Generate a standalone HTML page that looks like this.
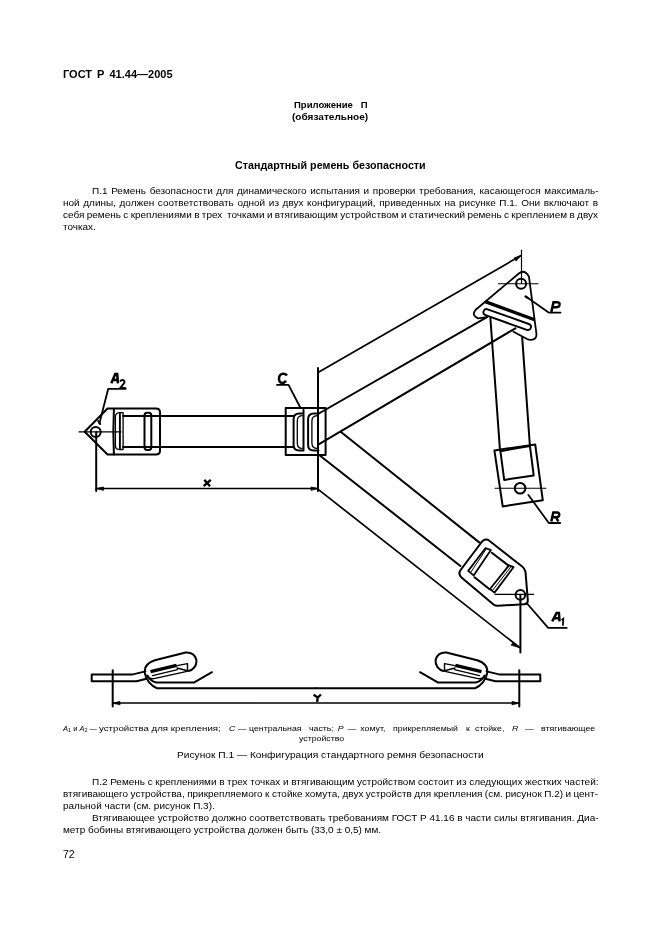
<!DOCTYPE html>
<html><head><meta charset="utf-8">
<style>
html,body{margin:0;padding:0;background:#fff;}
body{width:661px;height:936px;position:relative;overflow:hidden;font-family:"Liberation Sans",sans-serif;color:#000;}
.l{position:absolute;white-space:nowrap;font-size:9px;line-height:1;will-change:transform;}
.j{text-align:justify;text-align-last:justify;white-space:normal;}
.b{font-weight:bold;}
.c{text-align:center;}
sub{font-size:5.5px;vertical-align:-1px;line-height:0;}
svg{position:absolute;left:0;top:0;}
</style></head><body>
<div class="l" style="left:63px;top:69px;font-size:11px;font-weight:bold;word-spacing:2.008px;">ГОСТ Р 41.44—2005</div>
<div class="l" style="left:293.5px;top:100px;font-size:9.5px;font-weight:bold;word-spacing:5.219px;">Приложение П</div>
<div class="l" style="left:292.3px;top:111.6px;font-size:9.6px;font-weight:bold;transform:scaleX(1.0488);transform-origin:0 0;">(обязательное)</div>
<div class="l" style="left:235.3px;top:159.8px;font-size:10.7px;font-weight:bold;transform:scaleX(1.0034);transform-origin:0 0;">Стандартный ремень безопасности</div>
<div class="l" style="left:91.5px;top:187px;font-size:8.9px;word-spacing:0.770px;transform:scaleX(1.1240);transform-origin:0 0;">П.1 Ремень безопасности для динамического испытания и проверки требования, касающегося максималь-</div>
<div class="l" style="left:63px;top:199px;font-size:8.9px;word-spacing:0.747px;transform:scaleX(1.1240);transform-origin:0 0;">ной длины, должен соответствовать одной из двух конфигураций, приведенных на рисунке П.1. Они включают в</div>
<div class="l" style="left:63px;top:211px;font-size:8.9px;word-spacing:-0.357px;transform:scaleX(1.1240);transform-origin:0 0;">себя ремень с креплениями в трех&nbsp; точками и втягивающим устройством и статический ремень с креплением в двух</div>
<div class="l" style="left:63px;top:223px;font-size:8.9px;transform:scaleX(1.1240);transform-origin:0 0;">точках.</div>
<div class="l" style="left:62.8px;top:724.5px;font-size:7.5px;transform:scaleX(0.9968);transform-origin:0 0;"><i>A</i><sub>1</sub> и <i>A</i><sub>2</sub> —</div>
<div class="l" style="left:99.2px;top:724.5px;font-size:7.5px;transform:scaleX(1.2910);transform-origin:0 0;">устройства для крепления;</div>
<div class="l" style="left:229.4px;top:724.5px;font-size:7.5px;word-spacing:-0.006px;transform:scaleX(1.1700);transform-origin:0 0;"><i>C</i> — центральная</div>
<div class="l" style="left:309.3px;top:724.5px;font-size:7.5px;word-spacing:1.251px;transform:scaleX(1.1700);transform-origin:0 0;">часть; <i>P</i> — хомут,</div>
<div class="l" style="left:393.0px;top:724.5px;font-size:7.5px;transform:scaleX(1.1700);transform-origin:0 0;">прикрепляемый</div>
<div class="l" style="left:465.6px;top:724.5px;font-size:7.5px;transform:scaleX(1.1700);transform-origin:0 0;">к</div>
<div class="l" style="left:475.3px;top:724.5px;font-size:7.5px;transform:scaleX(1.1700);transform-origin:0 0;">стойке,</div>
<div class="l" style="left:512.4px;top:724.5px;font-size:7.5px;transform:scaleX(1.1700);transform-origin:0 0;"><i>R</i></div>
<div class="l" style="left:525.0px;top:724.5px;font-size:7.5px;transform:scaleX(1.1700);transform-origin:0 0;">—</div>
<div class="l" style="left:540.8px;top:724.5px;font-size:7.5px;transform:scaleX(1.1700);transform-origin:0 0;">втягивающее</div>
<div class="l" style="left:299.1px;top:734.5px;font-size:7.5px;transform:scaleX(1.1700);transform-origin:0 0;">устройство</div>
<div class="l" style="left:176.8px;top:751.3px;font-size:9.3px;transform:scaleX(1.0955);transform-origin:0 0;">Рисунок П.1 — Конфигурация стандартного ремня безопасности</div>
<div class="l" style="left:91.5px;top:778px;font-size:8.9px;word-spacing:-0.094px;transform:scaleX(1.1240);transform-origin:0 0;">П.2 Ремень с креплениями в трех точках и втягивающим устройством состоит из следующих жестких частей:</div>
<div class="l" style="left:63px;top:790px;font-size:8.9px;word-spacing:-0.297px;transform:scaleX(1.1240);transform-origin:0 0;">втягивающего устройства, прикрепляемого к стойке хомута, двух устройств для крепления (см. рисунок П.2) и цент-</div>
<div class="l" style="left:63px;top:802.2px;font-size:8.9px;transform:scaleX(1.1240);transform-origin:0 0;">ральной части (см. рисунок П.3).</div>
<div class="l" style="left:91.5px;top:814.2px;font-size:8.9px;word-spacing:0.001px;transform:scaleX(1.1240);transform-origin:0 0;">Втягивающее устройство должно соответствовать требованиям ГОСТ Р 41.16 в части силы втягивания. Диа-</div>
<div class="l" style="left:63px;top:826.2px;font-size:8.9px;transform:scaleX(1.1240);transform-origin:0 0;">метр бобины втягивающего устройства должен быть (33,0 ± 0,5) мм.</div>
<div class="l" style="left:62.5px;top:850px;font-size:10.2px;transform:scaleX(1.0314);transform-origin:0 0;">72</div>

<svg width="661" height="936" viewBox="0 0 661 936" fill="none" stroke="#000" stroke-width="2" stroke-linejoin="round" stroke-linecap="round">
<!-- ===== Left: A2 anchor + strap ===== -->
<path d="M107.5,408.5 H156 Q160,408.5 160,412.5 V450.5 Q160,454.5 156,454.5 H107.5 L84.7,431.7 Z"/>
<path d="M113.9,409.5 Q112.8,432 113.9,454.5"/>
<path d="M123.1,412.7 H119.2 Q115.4,413 115.4,417 V445.5 Q115.4,449.5 119.2,449.5 H123.1 Z" stroke-width="1.3"/>
<path d="M119.9,413.8 V448.6" stroke-width="1.9"/>
<rect x="144.5" y="412.7" width="6.8" height="37.2" rx="2.6"/>
<path d="M123,416 H293.5 M123,447 H293.5"/>
<circle cx="95.7" cy="431.9" r="5"/>
<path d="M79,431.9 H121" stroke-width="1.15"/>
<path d="M96.2,431.9 V491"/>
<path d="M99.4,423.5 L108.2,388.8 H125.8" stroke-width="1.8"/>
<path d="M98.2,421 L100.2,424" stroke-width="2"/>
<!-- X dimension -->
<path d="M96.2,488.5 H318" stroke-width="1.7"/>
<path d="M96.5,488.5 L103.5,487 V490 Z M318,488.5 L311,487 V490 Z" fill="#000" stroke-width="0.8"/>
<!-- ===== C central part ===== -->
<rect x="285.7" y="408.1" width="39.9" height="46.9"/>
<path d="M303.5,410 V450.5 H299.3 Q293.6,450.5 293.6,445 V419 Q293.6,413.5 299.3,413.5 H303.5"/>
<path d="M302,415.6 Q297.3,416 297.3,421 V443 Q297.3,448.4 302,448.4" stroke-width="1.3"/>
<path d="M318.5,413.5 H314 Q308.1,413.5 308.1,419 V445 Q308.1,450.5 314,450.5 H318.5"/>
<path d="M317.2,415.6 Q311.9,416 311.9,421 V443 Q311.9,448.4 317.2,448.4" stroke-width="1.3"/>
<path d="M318,368 V491"/>
<path d="M277,384.9 H288.5 L300.3,407.5" stroke-width="1.8"/>
<!-- upper strap -->
<path d="M318,414 L487,317.2"/>
<path d="M318.2,444.6 L515.4,328.3"/>
<!-- upper dimension -->
<path d="M318,372.6 L521,255.6" stroke-width="1.7"/>
<path d="M521,255.6 L514.2,257.9 L515.9,260.8 Z" fill="#000" stroke-width="0.8"/>
<path d="M521.5,250.3 V283.5" stroke-width="1.15"/>
<!-- lower strap -->
<path d="M341,432 L479.2,542.4"/>
<path d="M319.5,455.2 L460.4,566"/>
<!-- lower dimension -->
<path d="M318.2,489.4 L519.6,647.5" stroke-width="1.7"/>
<path d="M519.6,647.5 L513.2,642.2 L511.3,644.9 Z" fill="#000" stroke-width="0.8"/>
<!-- ===== P plate ===== -->
<path d="M475.7,309.8 L518.8,273.5 Q523.3,269.8 527,273.8 Q528.6,275.5 529,277 L536.4,333.5 Q537,339.5 531,339.8 Q529,339.9 527,339 L513.5,331.8 M475.7,309.8 Q471,315.5 478,318.3 L487,317.2" stroke-width="1.8"/>
<path d="M485.2,301.6 L534.6,319.8" stroke-width="3.3" stroke-linecap="butt"/>
<g transform="translate(507.2,319.6) rotate(19.5)"><rect x="-25" y="-3.1" width="50" height="6.2" rx="3.1" stroke-width="1.9"/></g>

<circle cx="521.1" cy="283.7" r="5"/>
<path d="M498.4,283.7 H538.1" stroke-width="1.15"/>
<path d="M490.4,318.3 L500,450.4 M522.2,337.6 L529.9,445.9"/>
<path d="M526.2,296.8 L549,312.7 H560.5" stroke-width="1.8"/>
<path d="M525.5,296.3 L527.5,297.8" stroke-width="2.2"/>
<!-- ===== R retractor ===== -->
<path d="M494.4,450.4 L535.2,444.4 L542.8,500.3 L502.7,506.4 Z"/>
<path d="M500.4,451.2 L529.9,445.9 L533.7,475.4 L504.2,479.9 Z"/>
<circle cx="520.1" cy="488.2" r="5.3"/>
<path d="M495.1,488.2 H545.8" stroke-width="1.15"/>
<path d="M528.4,495 L548.8,523 H560.2" stroke-width="1.8"/>
<!-- ===== A1 buckle ===== -->
<path d="M488,539.8 L522.2,566.5 Q525,568.5 525.5,572 L527.8,600 Q528,604 524,604.2 L498,605.8 Q495.5,606 493.5,604.5 L461.5,577.5 Q457.8,574 460.6,570 L480.2,544 Q483.5,538.5 488,539.8 Z"/>
<path d="M485.4,548.2 L490.9,550 L473.6,575.4 L468.2,570.9 Z" stroke-width="1.8"/>
<path d="M486.5,548.5 L471,572" stroke-width="1"/>
<path d="M509,565.4 L513.5,567.2 L494.5,592.6 L490,589 Z" stroke-width="1.8"/>
<path d="M511.3,566.3 L492.2,590.8" stroke-width="1"/>
<path d="M491.8,552.7 L508.6,565.6 M474.5,577.2 L489.6,589.3" stroke-width="2"/>
<path d="M495,594.3 H533.7" stroke-width="1.15"/>
<circle cx="520.4" cy="594.9" r="4.8"/>
<path d="M520.4,594.9 V652.4"/>
<path d="M526.6,603 L548.2,627.9 H566.7" stroke-width="1.8"/>
<!-- ===== Bottom static belt ===== -->
<path d="M112.7,670.3 V706.6 M519.3,670.3 V706.6"/>
<path d="M112.7,703 H519.3" stroke-width="1.7"/>
<path d="M113,703 L120,701.5 V704.5 Z M519,703 L512,701.5 V704.5 Z" fill="#000" stroke-width="0.8"/>
<!-- loops -->
<g id="loopR">
<path d="M316,688.2 H475 C481,686 486,680 487.2,673 C488,667 484,662.5 477.2,660.3 L446.3,652.5 C441,652 436.5,655 435.6,660 C435,665.5 438.5,670 443.6,671.1"/>
<path d="M444.5,663.6 V670.8 L455,668 M444.5,663.6 L455,665.6" stroke-width="1.4"/>
<path d="M455.4,665.3 L481.5,671.6" stroke-width="3.3" stroke-linecap="butt"/>
<path d="M454.5,669.6 L479.5,675.6" stroke-width="1.3"/>
<path d="M445,671.4 L478,678.6 Q482.5,679.2 484.5,676.5" stroke-width="1.4"/>
<path d="M420,672.2 L438.2,682.6 H475.4 Q481,681.8 484.6,675.5"/>
<path d="M486.6,671.4 L500,674.6 H540.3 V681.3 H495.5 L486.4,679"/>
</g>
<use href="#loopR" transform="translate(632,0) scale(-1,1)"/>
<g stroke-width="2.5" stroke-linecap="butt" stroke-linejoin="miter">
<!-- A2 -->
<path d="M111.3,383.3 L115.3,374 H117.2 L117.9,383.3 M113.2,380 H117.6"/>
<path d="M120,381.5 Q121,379.8 123.2,380 Q125,380.8 124.2,383 L120.3,387.9 H125.8" stroke-width="1.9"/>
<!-- C -->
<path d="M287,375.5 Q285.5,373.6 283,373.8 Q279,374.3 279,378.8 Q279,383 282.3,383 Q285,383 285.8,380.7"/>
<!-- P -->
<path d="M551.3,312 L553.5,302.2 H557.5 Q560,302.4 559.5,305 Q559,307.3 556,307.3 H552.3"/>
<!-- R -->
<path d="M551.3,521.5 L553.3,512.6 H557.5 Q559.6,512.8 559.2,515.2 Q558.8,517.2 556,517.2 H552.4 M556,517.2 L558.3,521.5"/>
<!-- A1 -->
<path d="M552.2,621.3 L556.6,612.9 H558.9 L559.6,621.3 M554.3,618.2 H559.2"/>
<path d="M561.6,620 L563.3,618.8 L562.9,625.8" stroke-width="1.7"/>
<!-- x -->
<path d="M204.3,479.9 L210,486.2 M210.8,479.9 L203.6,486.2" stroke-width="2.4"/>
<!-- Y -->
<path d="M313.6,694.8 L317.8,697.5 L321,694.5 M317.6,697.2 L317.2,702" stroke-width="2.3"/>
</g>
</svg>
</body></html>
